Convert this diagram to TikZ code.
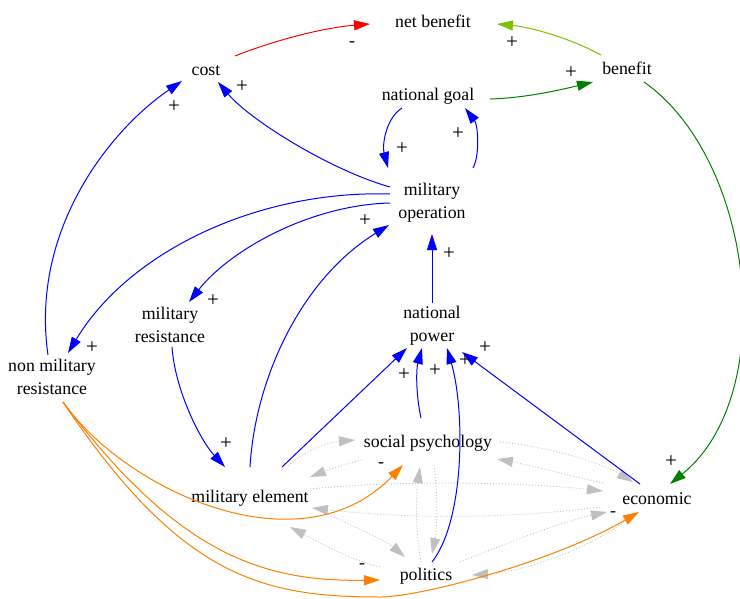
\documentclass[tikz,border=0pt]{standalone}
\usepackage{fontspec}
\setmainfont{Liberation Serif}
\usetikzlibrary{arrows.meta,calc}
\definecolor{eblue}{RGB}{0,0,255}
\definecolor{ered}{RGB}{255,0,0}
\definecolor{egreen}{RGB}{0,128,0}
\definecolor{eygreen}{RGB}{127,191,0}
\definecolor{eorange}{RGB}{255,127,0}
\definecolor{egray}{RGB}{192,192,192}
\begin{document}
\begin{tikzpicture}[x=1pt,y=-1pt,
  txt/.style={inner sep=0pt, font=\fontsize{17.8}{23}\selectfont, align=center},
  oneline/.style={text height=12.2pt, text depth=3.9pt},
  lbl/.style={inner sep=0pt, font=\fontsize{17.8}{23}\selectfont},
  plus/.style={inner sep=0pt, font=\fontsize{21}{23}\selectfont},
  lnk/.style={line width=1pt, -{Triangle[length=16pt,width=10pt]}},
  glnk/.style={line width=0.8pt, draw=egray, dash pattern=on 1pt off 2pt,
               -{Triangle[length=16pt,width=10pt,fill=egray]}}]
\useasboundingbox (0,0) rectangle (740,598);
% nodes
\node[txt,oneline] (nb) at (433,23) {net benefit};
\node[txt,oneline] (cost) at (206,71) {cost};
\node[txt,oneline] (ben) at (627,70) {benefit};
\node[txt,oneline] (ng) at (428,96) {national goal};
\node[txt] (mo) at (432,203) {military\\operation};
\node[txt] (mr) at (170,325) {military\\resistance};
\node[txt] (np) at (432,326) {national\\power};
\node[txt] (nmr) at (52,377) {non military\\resistance};
\node[txt,oneline] (sp) at (428,443) {social psychology};
\node[txt,oneline] (me) at (250,498) {military element};
\node[txt,oneline] (ec) at (657,500) {economic};
\node[txt,oneline] (po) at (426,576) {politics};
% gray dotted links
\draw[glnk] ($(me)+(38,-32)$) .. controls (305,450) and (330,442) .. ($(sp)+(-73,-3)$);
\draw[glnk] ($(sp)+(-66,17)$) .. controls (345,464) and (328,470) .. ($(me)+(60,-21)$);
\draw[glnk] ($(me)+(60,-9)$) .. controls (400,480) and (520,482) .. ($(ec)+(-54,-9)$);
\draw[glnk] ($(ec)+(-57,7)$) .. controls (500,520) and (400,518) .. ($(me)+(62,10)$);
\draw[glnk] ($(me)+(73,14)$) .. controls (350,525) and (385,540) .. ($(po)+(-21,-19)$);
\draw[glnk] ($(po)+(-46,-9)$) .. controls (350,560) and (315,540) .. ($(me)+(40,29)$);
\draw[glnk] ($(sp)+(6,22)$) .. controls (438,495) and (437,530) .. ($(po)+(6,-22)$);
\draw[glnk] ($(po)+(-5,-14)$) .. controls (415,530) and (416,495) .. ($(sp)+(-8,24)$);
\draw[glnk] ($(sp)+(72,-1)$) .. controls (545,446) and (600,462) .. ($(ec)+(-24,-18)$);
\draw[glnk] ($(ec)+(-54,-17)$) .. controls (570,476) and (530,465) .. ($(sp)+(69,16)$);
\draw[glnk] ($(po)+(34,-14)$) .. controls (500,546) and (560,522) .. ($(ec)+(-50,12)$);
\draw[glnk] ($(ec)+(-24,14)$) .. controls (600,545) and (525,572) .. ($(po)+(46,-1)$);
% red / green
\draw[lnk,ered] ($(cost)+(29,-15)$) .. controls (270,42) and (320,28) .. ($(nb)+(-63,1)$);
\draw[lnk,eygreen] ($(ben)+(-26,-15)$) .. controls (570,38) and (530,27) .. ($(nb)+(64,1)$);
\draw[lnk,egreen] ($(ng)+(62,3)$) .. controls (525,98) and (560,90) .. ($(ben)+(-34,12)$);
\draw[lnk,egreen] ($(ben)+(17,12)$) .. controls (755,160) and (780,395) .. ($(ec)+(13,-16)$);
% blue
\draw[lnk,eblue] ($(ng)+(-26,12)$) .. controls (386,118) and (382,145) .. ($(mo)+(-44,-35)$);
\draw[lnk,eblue] ($(mo)+(41,-35)$) .. controls (480,155) and (478,125) .. ($(ng)+(37,12)$);
\draw[lnk,eblue] ($(mo)+(-42,-16)$) .. controls (330,170) and (250,120) .. ($(cost)+(12,11)$);
\draw[lnk,eblue] ($(nmr)+(-4,-22)$) .. controls (30,230) and (110,130) .. ($(cost)+(-24,10)$);
\draw[lnk,eblue] ($(mo)+(-42,-9)$) .. controls (260,190) and (130,250) .. ($(nmr)+(16,-24)$);
\draw[lnk,eblue] ($(mo)+(-42,0)$) .. controls (310,205) and (230,250) .. ($(mr)+(19,-23)$);
\draw[lnk,eblue] ($(me)+(0,-31)$) .. controls (255,380) and (300,280) .. ($(mo)+(-43,22)$);
\draw[lnk,eblue] ($(np)+(0,-23)$) -- ($(mo)+(0,31)$);
\draw[lnk,eblue] ($(mr)+(2,22)$) .. controls (175,390) and (200,440) .. ($(me)+(-25,-31)$);
\draw[lnk,eblue] ($(me)+(32,-31)$) -- ($(np)+(-25,22)$);
\draw[lnk,eblue] ($(sp)+(-7,-25)$) .. controls (416,395) and (416,370) .. ($(np)+(-10,22)$);
\draw[lnk,eblue] ($(po)+(6,-14)$) .. controls (465,520) and (465,410) .. ($(np)+(15,22)$);
\draw[lnk,eblue] ($(ec)+(-17,-16)$) -- ($(np)+(30,26)$);
% orange
\draw[lnk,eorange] ($(nmr)+(11,25)$) .. controls (125,490) and (300,572) .. ($(sp)+(-25,22)$);
\draw[lnk,eorange] ($(nmr)+(11,25)$) .. controls (176,552) and (260,582) .. ($(po)+(-46,4)$);
\draw[lnk,eorange] ($(nmr)+(11,25)$) .. controls (180,576) and (260,597) .. (380,597)
   .. controls (420,597) and (553,562) .. ($(ec)+(-18,12)$);
% labels
\node[lbl] (l1) at (352,44) {-};
\node[plus] (l2) at (512,43) {+};
\node[plus] (l3) at (571,73) {+};
\node[plus] (l4) at (242,87) {+};
\node[plus] (l5) at (174,107) {+};
\node[plus] (l6) at (402,149) {+};
\node[plus] (l7) at (458,134) {+};
\node[plus] (l8) at (213,301) {+};
\node[plus] (l9) at (92,348) {+};
\node[plus] (l10) at (365,221) {+};
\node[plus] (l11) at (449,254) {+};
\node[plus] (l12) at (226,444) {+};
\node[plus] (l13) at (404,375) {+};
\node[plus] (l14) at (435,371) {+};
\node[plus] (l15) at (465,361) {+};
\node[plus] (l16) at (485,348) {+};
\node[plus] (l17) at (671,462) {+};
\node[lbl] (l18) at (381,465) {-};
\node[lbl] (l19) at (362,566) {-};
\node[lbl] (l20) at (613,514) {-};
\end{tikzpicture}
\end{document}
